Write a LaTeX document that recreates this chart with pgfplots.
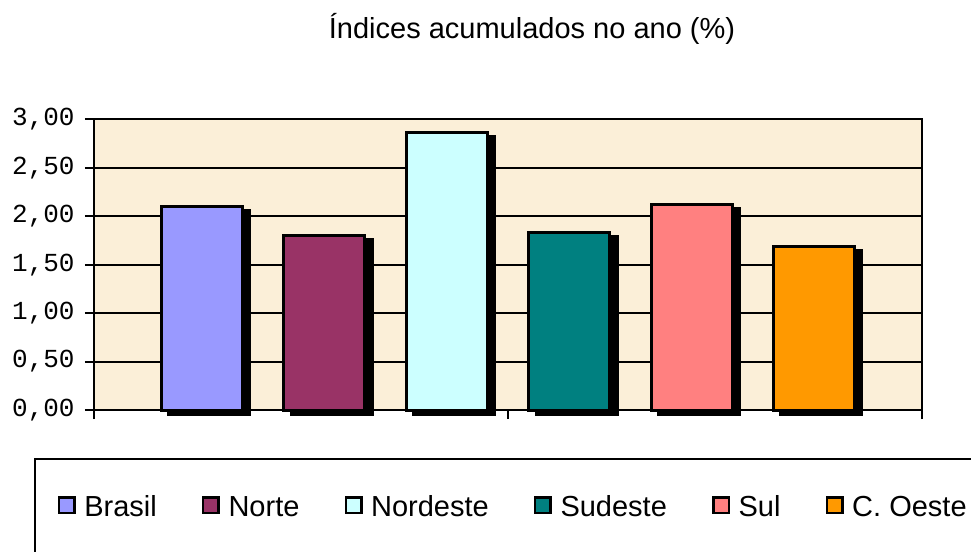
\documentclass[border=0pt]{standalone}
\usepackage{pgfplots}
\pgfplotsset{compat=1.18}
\usepackage{fontspec}
\setmainfont{Liberation Sans}
\newfontfamily\mono{Liberation Mono}
\definecolor{cBrasil}{HTML}{9999FF}
\definecolor{cNorte}{HTML}{993366}
\definecolor{cNordeste}{HTML}{CCFFFF}
\definecolor{cSudeste}{HTML}{008080}
\definecolor{cSul}{HTML}{FF8080}
\definecolor{cCOeste}{HTML}{FF9900}
\definecolor{bgbeige}{RGB}{251,239,216}
\begin{document}
\begin{tikzpicture}
\useasboundingbox (-47pt,-71pt) rectangle (438.5pt,205pt);
\begin{axis}[
  at={(0,0)}, anchor=south west,
  scale only axis, width=414pt, height=145.3pt,
  xmin=-0.882, xmax=5.882, ymin=0, ymax=3,
  clip=false,
  axis background/.style={fill=bgbeige},
  axis line style={black, line width=1pt},
  xtick={-0.882,2.5,5.882}, xticklabels={},
  ytick={0,0.5,1,1.5,2,2.5,3},
  xtick pos=bottom, ytick pos=left,
  tick align=outside,
  major tick length=4.5pt,
  tick style={black, line width=1pt},
  ymajorgrids, grid style={black, line width=1pt},
  yticklabel={\pgfmathprintnumber[fixed, fixed zerofill, precision=2, use comma, assume math mode=true]{\tick}},
  yticklabel style={font=\mono\fontsize{13}{15}\selectfont, inner sep=0pt, anchor=east, xshift=-5pt},
  title={Índices acumulados no ano (\%)},
  title style={font=\fontsize{14.5}{16}\selectfont, at={(axis description cs:0.529,1.237)}, anchor=base},
  legend columns=6,
  legend image code/.code={\draw[#1,draw=black,line width=1.25pt] (0.625pt,-3.15pt) rectangle (8.375pt,4.65pt);},
  legend style={at={(axis description cs:-0.0443,-0.332)}, anchor=west, draw=none, fill=none, inner sep=0pt,
    font=\fontsize{14.5}{16}\selectfont, nodes={inner sep=0pt, text height=10.4pt, text depth=0pt},
    /tikz/every odd column/.append style={column sep=4.3pt},
    /tikz/every even column/.append style={column sep=22.55pt}},
  mybar/.style={ybar, bar width=40.5pt, bar shift=0pt, draw=black, line width=1.5pt},
  shadow/.style={mybar, fill=black, forget plot, xshift=3.65pt, yshift=-2pt},
]
% shadows
\addplot[shadow] coordinates {(0,2.10)};
\addplot[shadow] coordinates {(1,1.80)};
\addplot[shadow] coordinates {(2,2.86)};
\addplot[shadow] coordinates {(3,1.83)};
\addplot[shadow] coordinates {(4,2.12)};
\addplot[shadow] coordinates {(5,1.69)};
% bars
\addplot[mybar, fill=cBrasil] coordinates {(0,2.10)};
\addlegendentry{Brasil}
\addplot[mybar, fill=cNorte] coordinates {(1,1.80)};
\addlegendentry{Norte}
\addplot[mybar, fill=cNordeste] coordinates {(2,2.86)};
\addlegendentry{Nordeste}
\addplot[mybar, fill=cSudeste] coordinates {(3,1.83)};
\addlegendentry{Sudeste}
\addplot[mybar, fill=cSul] coordinates {(4,2.12)};
\addlegendentry{Sul}
\addplot[mybar, fill=cCOeste] coordinates {(5,1.69)};
\addlegendentry{C. Oeste}
\end{axis}
\draw[black, line width=1.25pt] (-29.5pt,-71pt) -- (-29.5pt,-24.5pt) -- (440pt,-24.5pt);
\end{tikzpicture}
\end{document}
